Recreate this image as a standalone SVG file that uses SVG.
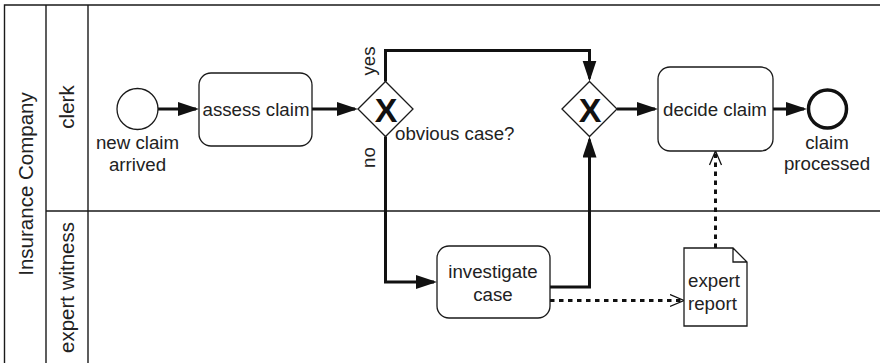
<svg xmlns="http://www.w3.org/2000/svg" width="880" height="363" viewBox="0 0 880 363">
<style>
  text { font-family: "Liberation Sans", Arial, sans-serif; fill: #222; }
  .lbl { font-size: 18.7px; }
  .lane { font-size: 20.5px; text-anchor: middle; }
  .mid { text-anchor: middle; }
  .pool { fill: none; stroke: #1a1a1a; stroke-width: 1.4; }
  .task { fill: #fff; stroke: #1a1a1a; stroke-width: 1.3; }
  .gw { fill: #fff; stroke: #1a1a1a; stroke-width: 1.3; }
  .gwx { font-size: 34px; font-weight: bold; text-anchor: middle; fill: #111; }
  .flow { fill: none; stroke: #111; stroke-width: 3; marker-end: url(#arrow); }
  .assoc { fill: none; stroke: #111; stroke-width: 3; stroke-dasharray: 4.5 4.5; marker-end: url(#open); }
</style>
<defs>
  <marker id="arrow" markerUnits="userSpaceOnUse" markerWidth="22" markerHeight="15" refX="18" refY="7" orient="auto">
    <path d="M0,0 L21,7 L0,14 z" fill="#111" stroke="none"/>
  </marker>
  <marker id="open" markerUnits="userSpaceOnUse" markerWidth="16" markerHeight="14" refX="14.5" refY="6.5" orient="auto">
    <path d="M0.5,0.5 L14.5,6.5 L0.5,12.5" fill="none" stroke="#111" stroke-width="1.3" stroke-dasharray="none"/>
  </marker>
</defs>
<rect width="880" height="363" fill="#fff"/>

<g id="pool">
  <path class="pool" d="M880,5 H4.5 V363 M46,5 V363 M88,5 V363 M46,211 H880"/>
  <text class="lane" transform="translate(33,184) rotate(-90)">Insurance Company</text>
</g>
<g id="lane-clerk">
  <text class="lane" transform="translate(74,107) rotate(-90)">clerk</text>
</g>
<g id="lane-expert">
  <text class="lane" transform="translate(74,287.5) rotate(-90)">expert witness</text>
</g>

<g id="connectors">
  <path class="flow" d="M158,109 H196"/>
  <path class="flow" d="M312,109 H355"/>
  <path class="flow" d="M385.5,81.5 V50.5 H589.5 V78.5"/>
  <path class="flow" d="M385.5,136.5 V282 H434"/>
  <path class="flow" d="M550,287 H589.5 V139.5"/>
  <path class="flow" d="M617,109 H655"/>
  <path class="flow" d="M773,109 H804"/>
  <path class="assoc" d="M550,300.5 H684"/>
  <path class="assoc" d="M715.5,248 V151"/>
  <text class="lbl mid" transform="translate(375,61) rotate(-90)">yes</text>
  <text class="lbl mid" transform="translate(375,157.5) rotate(-90)">no</text>
</g>

<g id="start">
  <circle cx="137.5" cy="109" r="20.5" fill="#fff" stroke="#1a1a1a" stroke-width="1.3"/>
  <text class="lbl mid" x="137.5" y="149">new claim</text>
  <text class="lbl mid" x="137.5" y="170.5">arrived</text>
</g>

<g id="assess">
  <rect class="task" x="199" y="73" width="113" height="73" rx="12"/>
  <text class="lbl mid" x="256" y="116">assess claim</text>
</g>

<g id="gateway1">
  <path class="gw" d="M358,109 L385.5,81.5 L413,109 L385.5,136.5 z"/>
  <text class="gwx" x="386" y="122">X</text>
  <text class="lbl" x="395" y="139.5">obvious case?</text>
</g>

<g id="gateway2">
  <path class="gw" d="M562,109 L589.5,81.5 L617,109 L589.5,136.5 z"/>
  <text class="gwx" x="590" y="122">X</text>
</g>

<g id="decide">
  <rect class="task" x="658" y="67" width="115" height="84" rx="12"/>
  <text class="lbl mid" x="715" y="116">decide claim</text>
</g>

<g id="end">
  <circle cx="827.5" cy="109" r="19" fill="#fff" stroke="#111" stroke-width="3.5"/>
  <text class="lbl mid" x="827" y="148.5">claim</text>
  <text class="lbl mid" x="827" y="170">processed</text>
</g>

<g id="investigate">
  <rect class="task" x="437" y="246" width="113" height="72" rx="12"/>
  <text class="lbl mid" x="493" y="278">investigate</text>
  <text class="lbl mid" x="493" y="301">case</text>
</g>

<g id="report">
  <path d="M684,248 H733 L747,262 V326 H684 z M733,248 V262 H747" fill="#fff" stroke="#1a1a1a" stroke-width="1.3" stroke-linejoin="miter"/>
  <text class="lbl" x="688" y="287">expert</text>
  <text class="lbl" x="688" y="309.5">report</text>
</g>
</svg>
